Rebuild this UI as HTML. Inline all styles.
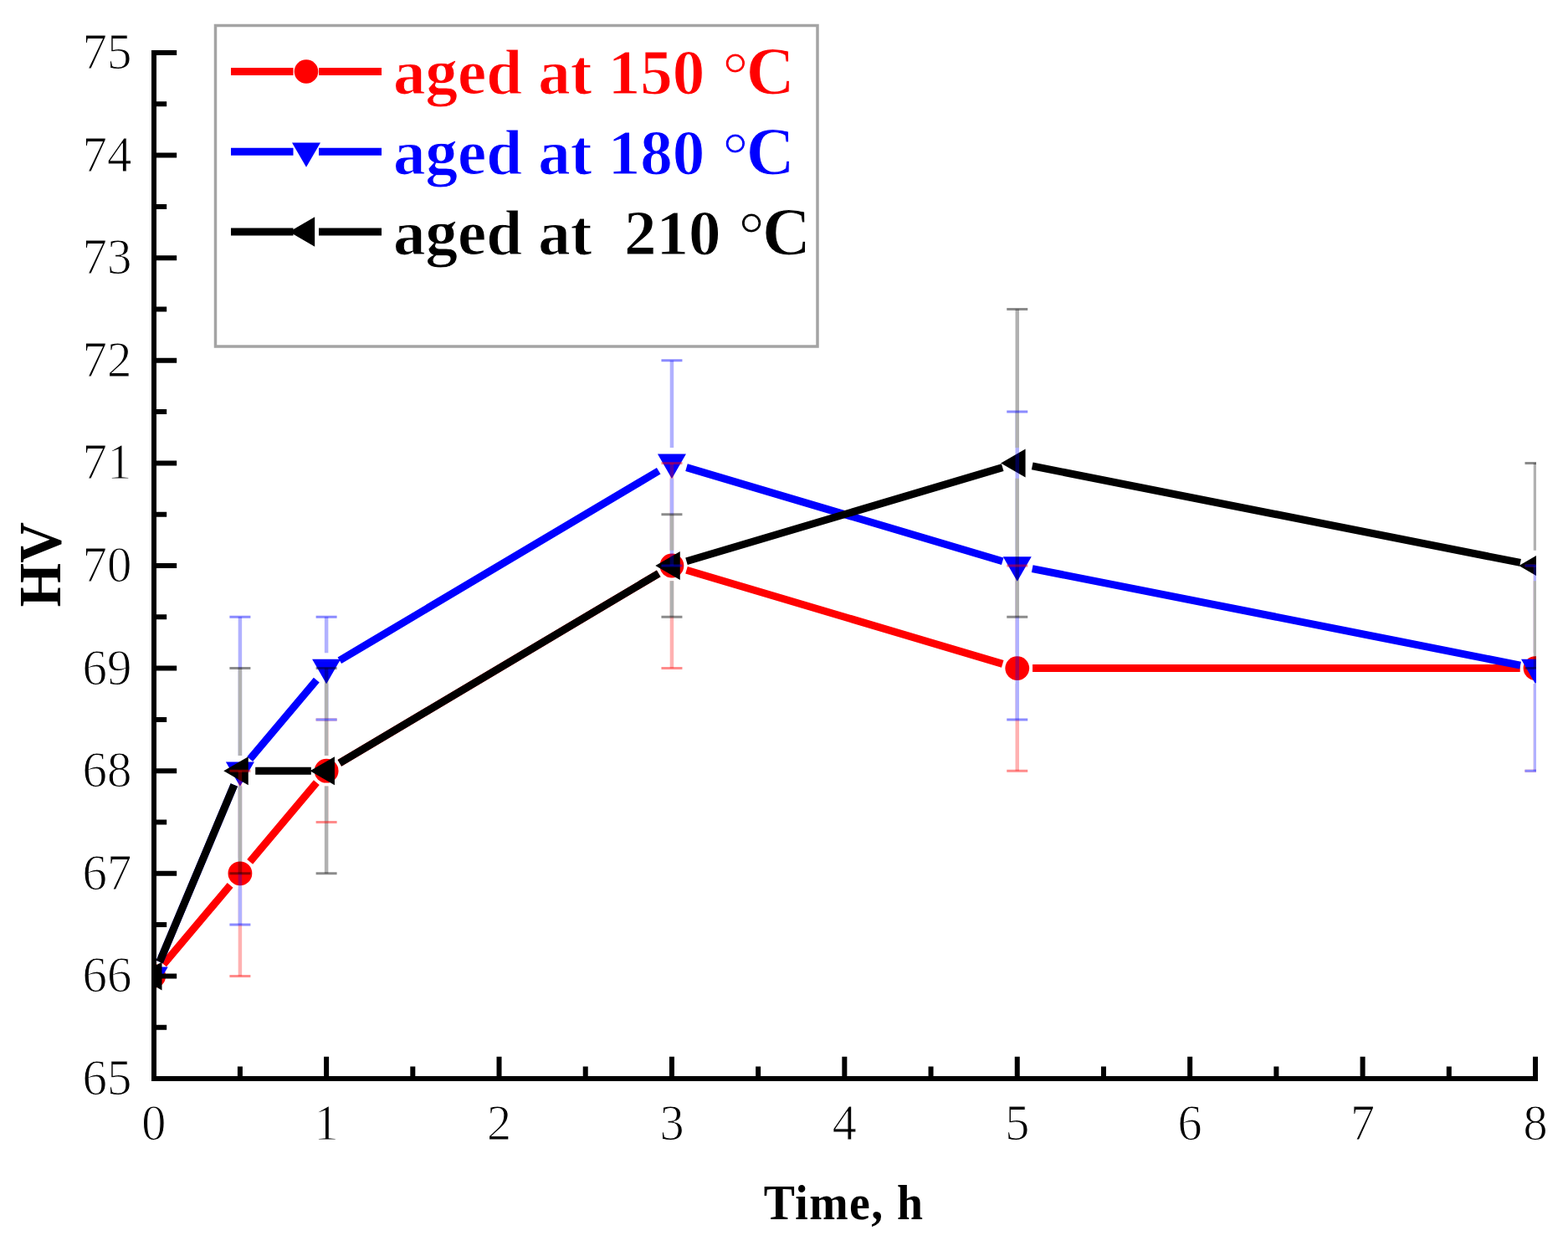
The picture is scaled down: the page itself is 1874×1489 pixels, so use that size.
<!DOCTYPE html><html><head><meta charset="utf-8"><title>HV vs Time</title><style>html,body{margin:0;padding:0;background:#fff;overflow:hidden}svg{display:block}text{font-family:"Liberation Serif","Times New Roman",serif}</style></head><body>
<svg width="1874" height="1489" viewBox="0 0 1874 1489">
<rect width="1874" height="1489" fill="#fff"/>
<defs><clipPath id="pa"><rect x="183.7" y="0" width="1652.3" height="1289"/></clipPath></defs>
<g clip-path="url(#pa)">
<g fill="none" stroke-linecap="butt" stroke-width="9">
<path stroke="#ff0000" d="M195.49 1152.4L275.12 1057.8M298.69 1029.8L378.33 935.2M405.85 911.85L787.2 685.35M820.48 681.21L1198.22 793.39M1234.06 798.6L1816.7 798.6"/>
<path stroke="#0000ff" d="M190.8 1149.53L279.81 938.07M298.69 907.2L378.33 812.6M405.85 789.25L787.2 562.75M820.48 558.61L1198.22 670.79M1233.71 679.55L1817.05 795.05"/>
<path stroke="#000000" d="M190.8 1149.53L279.81 938.07M305.21 921.2L371.81 921.2M405.85 911.85L787.2 685.35M820.48 670.79L1198.22 558.61M1233.71 556.95L1817.05 672.45"/>
</g>
<circle cx="183.7" cy="1166.4" r="14.4" fill="#ff0000"/>
<circle cx="286.91" cy="1043.8" r="14.4" fill="#ff0000"/>
<circle cx="390.11" cy="921.2" r="14.4" fill="#ff0000"/>
<circle cx="802.94" cy="676" r="14.4" fill="#ff0000"/>
<circle cx="1215.76" cy="798.6" r="14.4" fill="#ff0000"/>
<circle cx="1835" cy="798.6" r="14.4" fill="#ff0000"/>
<polygon points="166.7,1155.59 200.7,1155.59 183.7,1185.03" fill="#0000ff"/>
<polygon points="269.91,910.39 303.91,910.39 286.91,939.83" fill="#0000ff"/>
<polygon points="373.11,787.79 407.11,787.79 390.11,817.23" fill="#0000ff"/>
<polygon points="785.94,542.59 819.94,542.59 802.94,572.03" fill="#0000ff"/>
<polygon points="1198.76,665.19 1232.76,665.19 1215.76,694.63" fill="#0000ff"/>
<polygon points="1818,787.79 1852,787.79 1835,817.23" fill="#0000ff"/>
<polygon points="193.51,1149.4 193.51,1183.4 164.07,1166.4" fill="#000000"/>
<polygon points="296.72,904.2 296.72,938.2 267.28,921.2" fill="#000000"/>
<polygon points="399.93,904.2 399.93,938.2 370.48,921.2" fill="#000000"/>
<polygon points="812.75,659 812.75,693 783.31,676" fill="#000000"/>
<polygon points="1225.58,536.4 1225.58,570.4 1196.13,553.4" fill="#000000"/>
<polygon points="1844.81,659 1844.81,693 1815.37,676" fill="#000000"/>
<g opacity="0.3" fill="none" stroke-width="4.5" stroke-linecap="butt">
<path stroke="#ff0000" d="M286.91 921.2V1025.5M286.91 1062.1V1166.4M390.11 859.9V902.9M390.11 939.5V982.5M802.94 553.4V657.7M802.94 694.3V798.6M1215.76 676V780.3M1215.76 816.9V921.2M1835 676V780.3M1835 816.9V921.2"/>
<path stroke="#0000ff" d="M286.91 737.3V902.9M286.91 939.5V1105.1M390.11 737.3V780.3M390.11 816.9V859.9M802.94 430.8V535.1M802.94 571.7V676M1215.76 492.1V657.7M1215.76 694.3V859.9M1835 676V780.3M1835 816.9V921.2"/>
<path stroke="#000000" d="M286.91 798.6V902.9M286.91 939.5V1043.8M390.11 798.6V902.9M390.11 939.5V1043.8M802.94 614.7V657.7M802.94 694.3V737.3M1215.76 369.5V535.1M1215.76 571.7V737.3M1835 553.4V657.7M1835 694.3V798.6"/>
</g>
<g opacity="0.45" fill="none" stroke-width="3" stroke-linecap="butt">
<path stroke="#ff0000" d="M274.41 921.2H299.41M274.41 1166.4H299.41M377.61 859.9H402.61M377.61 982.5H402.61M790.44 553.4H815.44M790.44 798.6H815.44M1203.26 676H1228.26M1203.26 921.2H1228.26M1822.5 676H1847.5M1822.5 921.2H1847.5"/>
<path stroke="#0000ff" d="M274.41 737.3H299.41M274.41 1105.1H299.41M377.61 737.3H402.61M377.61 859.9H402.61M790.44 430.8H815.44M790.44 676H815.44M1203.26 492.1H1228.26M1203.26 859.9H1228.26M1822.5 676H1847.5M1822.5 921.2H1847.5"/>
<path stroke="#000000" d="M274.41 798.6H299.41M274.41 1043.8H299.41M377.61 798.6H402.61M377.61 1043.8H402.61M790.44 614.7H815.44M790.44 737.3H815.44M1203.26 369.5H1228.26M1203.26 737.3H1228.26M1822.5 553.4H1847.5M1822.5 798.6H1847.5"/>
</g>
</g>
<g stroke="#000" stroke-width="6" fill="none">
<path d="M184 60V1292"/>
<path d="M181.2 1289H1838"/>
<path d="M183.7 1227.7H199.2M183.7 1166.4H211.2M183.7 1105.1H199.2M183.7 1043.8H211.2M183.7 982.5H199.2M183.7 921.2H211.2M183.7 859.9H199.2M183.7 798.6H211.2M183.7 737.3H199.2M183.7 676H211.2M183.7 614.7H199.2M183.7 553.4H211.2M183.7 492.1H199.2M183.7 430.8H211.2M183.7 369.5H199.2M183.7 308.2H211.2M183.7 246.9H199.2M183.7 185.6H211.2M183.7 124.3H199.2M183.7 63H211.2M286.91 1289V1274.5M390.11 1289V1262.7M493.32 1289V1274.5M596.52 1289V1262.7M699.73 1289V1274.5M802.94 1289V1262.7M906.14 1289V1274.5M1009.35 1289V1262.7M1112.56 1289V1274.5M1215.76 1289V1262.7M1318.97 1289V1274.5M1422.17 1289V1262.7M1525.38 1289V1274.5M1628.59 1289V1262.7M1731.79 1289V1274.5M1835 1289V1262.7"/>
</g>
<g font-size="62" fill="#000" stroke="#fff" stroke-width="1.1">
<text text-anchor="end" transform="translate(157.5 1308) scale(0.95 1)">65</text>
<text text-anchor="end" transform="translate(157.5 1185.4) scale(0.95 1)">66</text>
<text text-anchor="end" transform="translate(157.5 1062.8) scale(0.95 1)">67</text>
<text text-anchor="end" transform="translate(157.5 940.2) scale(0.95 1)">68</text>
<text text-anchor="end" transform="translate(157.5 817.6) scale(0.95 1)">69</text>
<text text-anchor="end" transform="translate(157.5 695) scale(0.95 1)">70</text>
<text text-anchor="end" transform="translate(157.5 572.4) scale(0.95 1)">71</text>
<text text-anchor="end" transform="translate(157.5 449.8) scale(0.95 1)">72</text>
<text text-anchor="end" transform="translate(157.5 327.2) scale(0.95 1)">73</text>
<text text-anchor="end" transform="translate(157.5 204.6) scale(0.95 1)">74</text>
<text text-anchor="end" transform="translate(157.5 82) scale(0.95 1)">75</text>
<text text-anchor="middle" transform="translate(183.7 1362) scale(0.94 1)">0</text>
<text text-anchor="middle" transform="translate(390.11 1362) scale(0.94 1)">1</text>
<text text-anchor="middle" transform="translate(596.52 1362) scale(0.94 1)">2</text>
<text text-anchor="middle" transform="translate(802.94 1362) scale(0.94 1)">3</text>
<text text-anchor="middle" transform="translate(1009.35 1362) scale(0.94 1)">4</text>
<text text-anchor="middle" transform="translate(1215.76 1362) scale(0.94 1)">5</text>
<text text-anchor="middle" transform="translate(1422.17 1362) scale(0.94 1)">6</text>
<text text-anchor="middle" transform="translate(1628.59 1362) scale(0.94 1)">7</text>
<text text-anchor="middle" transform="translate(1835 1362) scale(0.94 1)">8</text>
</g>
<text x="0" y="0" font-size="72" font-weight="bold" text-anchor="middle" transform="translate(72.3 674.7) rotate(-90) scale(0.94 1)">HV</text>
<text font-size="60" font-weight="bold" text-anchor="middle" letter-spacing="1.5" transform="translate(1008.5 1457) scale(0.93 1)">Time, h</text>
<rect x="257.5" y="30.5" width="719.5" height="383.5" fill="none" stroke="#a4a4a4" stroke-width="3.5"/>
<path d="M276 85.5H350.5M381 85.5H456" stroke="#ff0000" stroke-width="9"/>
<circle cx="366" cy="85.5" r="14.3" fill="#ff0000"/>
<text x="470" y="112.4" font-size="77" font-weight="bold" fill="#ff0000" stroke="#fff" stroke-width="1">aged at 150 <tspan font-weight="normal" dx="2" dy="2.5">°</tspan><tspan dx="-2.5" dy="-2.5" font-size="80">C</tspan></text>
<path d="M276 181.2H350.5M381 181.2H456" stroke="#0000ff" stroke-width="9"/>
<polygon points="349,170.39 383,170.39 366,199.83" fill="#0000ff"/>
<text x="470" y="208" font-size="77" font-weight="bold" fill="#0000ff" stroke="#fff" stroke-width="1">aged at 180 <tspan font-weight="normal" dx="2" dy="2.5">°</tspan><tspan dx="-2.5" dy="-2.5" font-size="80">C</tspan></text>
<path d="M276 277H350.5M381 277H456" stroke="#000000" stroke-width="9"/>
<polygon points="376.19,259.35 376.19,294.65 345.62,277" fill="#000000"/>
<text x="470" y="303.6" font-size="77" font-weight="bold" fill="#000000" stroke="#fff" stroke-width="1">aged at  210 <tspan font-weight="normal" dx="2" dy="2.5">°</tspan><tspan dx="-2.5" dy="-2.5" font-size="80">C</tspan></text>
</svg></body></html>
